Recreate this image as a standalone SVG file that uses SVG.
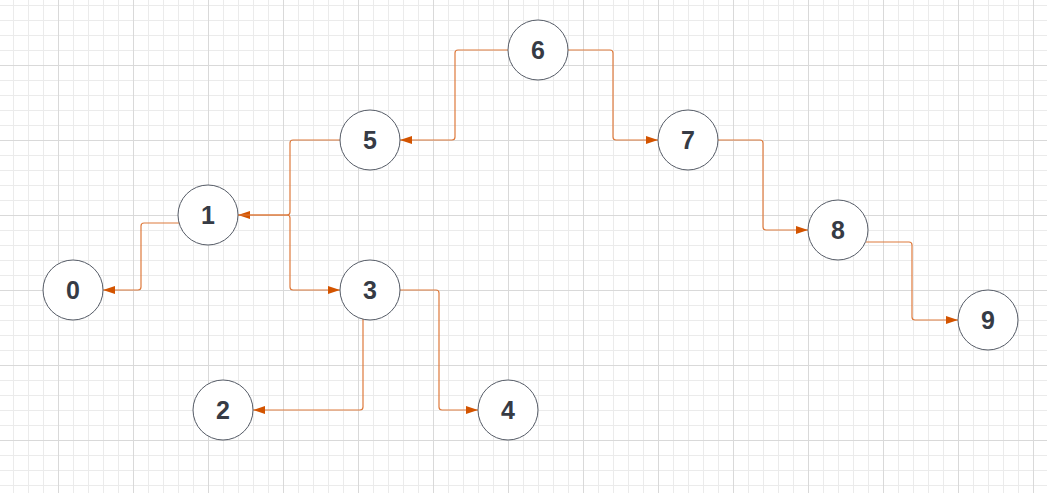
<svg xmlns="http://www.w3.org/2000/svg" width="1047" height="493" viewBox="0 0 1047 493">
<defs>
<pattern id="minor" patternUnits="userSpaceOnUse" x="13" y="5" width="15" height="15">
<path d="M0.5 0V15M0 0.5H15" stroke="#ebebeb" stroke-width="1" fill="none"/>
</pattern>
<pattern id="major" patternUnits="userSpaceOnUse" x="58" y="65" width="75" height="75">
<path d="M0.5 0V75M0 0.5H75" stroke="#d9d9d9" stroke-width="1" fill="none"/>
</pattern>
<marker id="arr" viewBox="0 0 12 8" refX="12" refY="4" markerWidth="12" markerHeight="8" markerUnits="userSpaceOnUse" orient="auto">
<path d="M0 0L12 4L0 8Z" fill="#d35400"/>
</marker>
<style>
.node circle{fill:#ffffff;stroke:#555b66;stroke-width:1}
.node text{font-family:"Liberation Sans",Arial,sans-serif;font-weight:bold;font-size:25px;fill:#363b45;text-anchor:middle;dominant-baseline:central}
.edge{fill:none;stroke:#de7a3c;stroke-width:1.2;marker-end:url(#arr)}
</style>
</defs>
<rect width="1047" height="493" fill="#ffffff"/>
<rect width="1047" height="493" fill="url(#minor)"/>
<rect width="1047" height="493" fill="url(#major)"/>
<g id="connectors">
<path class="edge" d="M179 223H144Q141 223 141 226V287Q141 290 138 290H103"/>
<path class="edge" d="M340 140H293Q290 140 290 143V212Q290 215 287 215H238"/>
<path class="edge" d="M238 215H287Q290 215 290 218V287Q290 290 293 290H340"/>
<path class="edge" d="M363 319V407Q363 410 360 410H253"/>
<path class="edge" d="M400 290H436Q439 290 439 293V407Q439 410 442 410H478"/>
<path class="edge" d="M508 50H458Q455 50 455 53V137Q455 140 452 140H400"/>
<path class="edge" d="M568 50H610Q613 50 613 53V137Q613 140 616 140H658"/>
<path class="edge" d="M718 140H760Q763 140 763 143V227Q763 230 766 230H808"/>
<path class="edge" d="M866 242H909Q912 242 912 245V317Q912 320 915 320H958"/>
</g>
<g id="node0" class="node"><circle cx="73" cy="290" r="30"/><text x="73" y="290">0</text></g>
<g id="node1" class="node"><circle cx="208" cy="215" r="30"/><text x="208" y="215">1</text></g>
<g id="node2" class="node"><circle cx="223" cy="410" r="30"/><text x="223" y="410">2</text></g>
<g id="node3" class="node"><circle cx="370" cy="290" r="30"/><text x="370" y="290">3</text></g>
<g id="node4" class="node"><circle cx="508" cy="410" r="30"/><text x="508" y="410">4</text></g>
<g id="node5" class="node"><circle cx="370" cy="140" r="30"/><text x="370" y="140">5</text></g>
<g id="node6" class="node"><circle cx="538" cy="50" r="30"/><text x="538" y="50">6</text></g>
<g id="node7" class="node"><circle cx="688" cy="140" r="30"/><text x="688" y="140">7</text></g>
<g id="node8" class="node"><circle cx="838" cy="230" r="30"/><text x="838" y="230">8</text></g>
<g id="node9" class="node"><circle cx="988" cy="320" r="30"/><text x="988" y="320">9</text></g>
</svg>
